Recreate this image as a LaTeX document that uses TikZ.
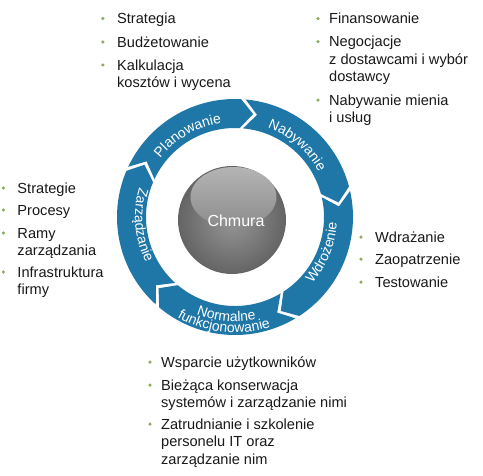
\documentclass[tikz,border=0pt]{standalone}
\usepackage{fontspec}
\setmainfont{Liberation Sans}
\usetikzlibrary{decorations.text}
\definecolor{ringblue}{RGB}{31,119,168}
\definecolor{bulletgreen}{RGB}{140,172,92}
\definecolor{txt}{RGB}{25,25,25}
\newcommand\segGap{2.2}
\newcommand\segTip{7}
\newcommand\Rout{118}
\newcommand\Rin{89}
\newcommand\Rmid{104.5}
\newcommand\ringseg[2]{%
  \fill[ringblue] ({#1-\segGap}:\Rout) arc[start angle={#1-\segGap}, end angle={#2}, radius=\Rout]
    -- ({#2-\segTip}:\Rmid) -- ({#2}:\Rin)
    arc[start angle={#2}, end angle={#1-\segGap}, radius=\Rin]
    -- ({#1-\segGap-\segTip}:\Rmid) -- cycle;}
\newcommand\lblfont{\fontsize{14}{14}\selectfont}
\newcommand\mlines[1]{\begin{tabular}[t]{@{}l@{}}#1\end{tabular}}
\begin{document}
\begin{tikzpicture}[x=1pt,y=1pt,
  item/.style={anchor=base west, inner sep=0pt, font=\fontsize{14.6}{17.5}\selectfont, text=txt},
  dot/.style={circle, fill=bulletgreen, inner sep=0pt, minimum size=3.5pt},
  arclabel/.style={decorate, decoration={text along path, text align=center, text={|\lblfont\color{white}|#1}}}]
\fill[white] (-235,-258) rectangle (248,217);
\useasboundingbox (-235,-258) rectangle (248,217);
% ring
\ringseg{157}{87}
\ringseg{87}{15}
\ringseg{15}{-57}
\ringseg{-57}{-130}
\ringseg{-130}{-203}
% ring labels
\path[arclabel=Planowanie] (160:95) arc[start angle=160, end angle=80, radius=95];
\path[arclabel=Nabywanie] (89:95) arc[start angle=89, end angle=9, radius=95];
\path[arclabel=Wdrożenie] (-62:102) arc[start angle=-62, end angle=18, radius=102];
\path[arclabel=Normalne] (-135:104.5) arc[start angle=-135, end angle=-55, radius=104.5];
\path[arclabel=funkcjonowanie] (-146:115.5) arc[start angle=-146, end angle=-46, radius=115.5];
\path[arclabel=Zarządzanie] (145:100) arc[start angle=145, end angle=225, radius=100];
% sphere
\shade[inner color={rgb,255:red,150;green,150;blue,150}, outer color={rgb,255:red,100;green,100;blue,100}] (-3,-3) circle[radius=54];
\shade[top color={rgb,255:red,180;green,180;blue,180}, bottom color={rgb,255:red,140;green,140;blue,140}] (-1.5,20) ellipse[x radius=43, y radius=30];
\node[font=\fontsize{16}{16}\selectfont, text=white, inner sep=0pt] (chmura) at (1,-4) {Chmura};
% top-left list
\node[dot] (btl1) at (-132,198.5) {};
\node[item] (tl1) at (-118,193.5) {Strategia};
\node[dot] (btl2) at (-132,175) {};
\node[item] (tl2) at (-118,170) {Budżetowanie};
\node[dot] (btl3) at (-132,152) {};
\node[item] (tl3) at (-118,147) {\mlines{Kalkulacja\\kosztów i wycena}};
% top-right list
\node[dot] (btr1) at (83,198.5) {};
\node[item] (tr1) at (94,193.5) {Finansowanie};
\node[dot] (btr2) at (83,175.5) {};
\node[item] (tr2) at (94,170.5) {\mlines{Negocjacje\\z dostawcami i wybór\\dostawcy}};
\node[dot] (btr3) at (83,117) {};
\node[item] (tr3) at (94,112) {\mlines{Nabywanie mienia\\i usług}};
% left list
\node[dot] (bl1) at (-231.7,29) {};
\node[item] (l1) at (-217.7,24) {Strategie};
\node[dot] (bl2) at (-231.7,7) {};
\node[item] (l2) at (-217.7,2) {Procesy};
\node[dot] (bl3) at (-231.7,-16) {};
\node[item] (l3) at (-217.7,-21) {\mlines{Ramy\\zarządzania}};
\node[dot] (bl4) at (-231.7,-55) {};
\node[item] (l4) at (-217.7,-60) {\mlines{Infrastruktura\\firmy}};
% right list
\node[dot] (br1) at (126,-20) {};
\node[item] (r1) at (140,-25) {Wdrażanie};
\node[dot] (br2) at (126,-42) {};
\node[item] (r2) at (140,-47) {Zaopatrzenie};
\node[dot] (br3) at (126,-65) {};
\node[item] (r3) at (140,-70) {Testowanie};
% bottom list
\node[dot] (bb1) at (-85,-145) {};
\node[item] (bt1) at (-74,-150) {Wsparcie użytkowników};
\node[dot] (bb2) at (-85,-168) {};
\node[item] (bt2) at (-74,-173) {\mlines{Bieżąca konserwacja\\systemów i zarządzanie nimi}};
\node[dot] (bb3) at (-85,-207) {};
\node[item] (bt3) at (-74,-212) {\mlines{Zatrudnianie i szkolenie\\personelu IT oraz\\zarządzanie nim}};
\end{tikzpicture}
\end{document}
